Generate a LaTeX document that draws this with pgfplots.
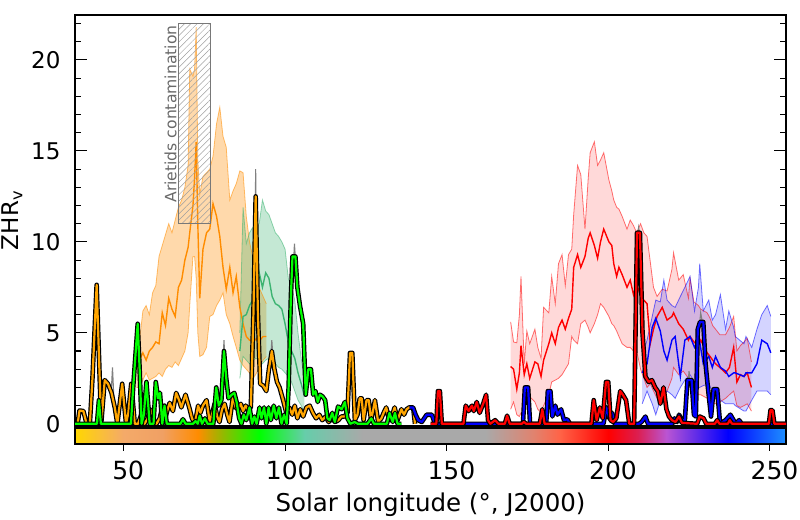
\documentclass[border=0pt]{standalone}
\usepackage{fontspec}
\setmainfont{DejaVu Sans}
\usepackage{pgfplots}
\usepackage{pgfplotstable}
\pgfplotsset{compat=1.18}
\usepgfplotslibrary{fillbetween}
\usetikzlibrary{patterns.meta}

\definecolor{dorange}{RGB}{255,140,0}
\definecolor{orangeT}{RGB}{255,165,0}
\definecolor{limeT}{RGB}{0,255,0}
\definecolor{mseagreen}{RGB}{60,179,113}
\definecolor{txtgray}{RGB}{105,105,105}
\definecolor{boxgray}{RGB}{120,120,120}

\definecolor{cbA}{RGB}{255,215,0}
\definecolor{cbB}{RGB}{244,170,105}
\definecolor{cbC}{RGB}{240,160,100}
\definecolor{cbD}{RGB}{255,140,0}
\definecolor{cbE}{RGB}{170,175,0}
\definecolor{cbF}{RGB}{0,255,0}
\definecolor{cbG}{RGB}{102,205,170}
\definecolor{cbH}{RGB}{169,169,169}
\definecolor{cbI}{RGB}{169,169,169}
\definecolor{cbJ}{RGB}{225,130,110}
\definecolor{cbK}{RGB}{255,99,71}
\definecolor{cbL}{RGB}{255,0,0}
\definecolor{cbM}{RGB}{220,30,80}
\definecolor{cbN}{RGB}{186,85,211}
\definecolor{cbO}{RGB}{0,0,255}
\definecolor{cbP}{RGB}{30,144,255}
\pgfdeclarehorizontalshading{cbshade}{100bp}{color(0bp)=(cbA); color(25bp)=(cbA); color(28.41bp)=(cbB); color(31.14bp)=(cbC); color(33.64bp)=(cbD); color(35bp)=(cbE); color(37.95bp)=(cbF); color(41.14bp)=(cbG); color(45.23bp)=(cbH); color(53.86bp)=(cbI); color(57.27bp)=(cbJ); color(59.09bp)=(cbK); color(62.5bp)=(cbL); color(64.55bp)=(cbM); color(66.59bp)=(cbN); color(70.91bp)=(cbO); color(75bp)=(cbP); color(100bp)=(cbP)}

% orange band: x lo mid hi
\pgfplotstableread{
x lo mid hi
54.0 2.0 3.0 4.0
55.0 2.0 3.5 4.6
56.0 2.4 3.9 6.2
57.0 2.8 3.5 6.5
58.0 2.4 4.0 6.0
59.0 2.5 4.2 7.2
60.0 2.6 4.5 7.6
61.0 2.8 4.4 9.2
62.0 2.6 6.1 9.8
63.0 3.0 5.4 10.4
64.0 3.2 6.9 11.0
65.0 3.1 6.3 10.5
66.0 3.4 5.9 11.2
67.0 3.2 7.5 11.9
68.0 3.6 7.9 12.3
69.0 4.0 9.0 13.0
70.0 5.0 9.7 14.2
70.5 6.5 10.5 19.5
71.5 9.2 12.0 19.1
72.0 9.2 13.5 19.5
72.5 8.0 15.5 21.8
73.0 5.0 11.0 14.5
73.6 3.7 6.9 12.6
74.6 3.8 9.6 13.6
75.7 4.2 10.5 13.8
76.7 5.9 10.7 14.0
77.7 6.0 12.1 14.7
78.8 6.5 11.4 16.5
79.8 6.8 10.3 17.4
80.8 7.2 8.6 15.8
81.8 6.0 7.4 15.2
82.9 5.5 8.6 12.3
83.9 4.8 7.2 12.8
84.9 4.2 8.1 13.2
86.0 3.5 6.4 13.9
87.0 3.2 5.5 13.8
88.0 3.0 4.8 11.4
89.0 2.8 4.6 10.0
90.2 2.5 4.5 9.0
91.2 2.8 4.7 8.0
92.2 3.2 4.6 7.4
93.2 3.5 4.8 7.0
94.2 3.7 4.8 6.6
}\ob

\pgfplotstableread{
x lo mid hi
86.0 2.5 4.0 5.0
87.0 3.7 5.9 11.9
88.0 3.5 6.0 9.9
89.0 3.3 6.5 10.5
90.0 3.5 6.8 10.8
91.0 3.6 6.8 11.0
92.0 3.5 8.3 11.0
93.0 3.3 7.5 12.3
94.0 3.5 8.3 11.7
95.0 3.6 8.0 11.5
96.0 3.4 7.0 11.0
97.0 3.3 6.6 10.5
98.0 3.1 6.5 10.3
99.0 3.0 6.3 10.0
100.0 2.8 5.5 9.6
101.0 2.6 4.5 8.0
102.0 2.3 4.0 7.5
103.0 1.8 3.6 6.8
104.0 1.3 2.8 5.0
105.0 1.0 2.2 3.6
106.0 0.6 1.5 2.4
}\gb

\pgfplotstableread{
x lo mid hi
169.8 0.8 3.15 5.6
170.7 1.2 3.0 4.5
171.7 0.5 1.9 4.45
172.5 0.4 2.8 6.0
173.0 0.6 4.3 8.1
174.0 0.6 2.7 3.3
174.8 1.8 3.3 5.1
175.7 1.5 2.5 4.4
177.3 1.2 3.4 5.2
178.2 0.8 3.3 4.2
179.2 0.6 2.6 3.6
180.0 1.0 3.5 6.4
181.6 1.6 4.4 6.1
182.5 2.3 5.0 8.1
183.6 2.4 4.4 6.6
184.6 2.5 5.3 8.8
185.7 2.7 5.7 9.3
186.7 3.0 5.2 7.6
187.7 3.3 5.8 9.3
188.7 4.8 6.3 9.6
189.3 4.6 8.6 11.5
190.5 4.4 9.3 14.2
191.5 5.5 8.6 13.7
192.8 5.7 9.2 10.7
193.8 5.3 10.2 13.5
194.4 5.0 10.5 14.9
195.7 5.5 9.8 15.5
196.7 6.0 9.1 14.2
197.6 6.6 10.0 14.5
198.6 6.4 10.7 14.9
200.2 5.9 10.0 13.4
201.1 5.5 9.8 12.8
201.7 5.4 8.8 12.3
202.6 5.1 8.1 11.9
203.3 4.8 8.6 11.8
204.3 4.4 8.2 11.4
205.8 4.2 7.5 10.7
206.8 4.2 7.9 11.2
207.8 4.0 7.1 10.9
208.8 4.0 7.7 10.5
210.0 3.0 7.0 11.0
211.0 2.5 6.8 10.5
212.0 2.0 6.6 10.3
213.0 2.2 4.4 8.9
214.0 1.8 5.2 7.5
215.1 1.4 5.9 7.0
216.7 1.1 6.4 7.4
218.2 1.8 5.7 7.3
219.7 2.5 5.9 8.5
220.2 3.1 6.1 9.4
221.8 2.7 5.5 7.9
223.2 2.9 5.2 8.2
224.8 2.5 4.6 6.9
225.3 2.2 4.8 8.0
226.5 2.0 4.5 6.7
227.9 1.6 4.3 6.5
228.6 1.6 4.6 6.3
230.6 1.4 3.9 6.1
231.5 1.3 3.7 5.8
232.3 1.2 3.5 5.4
233.2 1.1 3.3 5.2
234.5 1.2 3.1 4.9
236.3 1.4 2.8 4.9
237.5 1.6 3.1 5.3
238.8 1.8 4.2 5.9
239.8 1.0 2.3 4.0
240.9 0.9 2.7 4.3
242.0 1.0 2.6 4.5
243.0 1.1 2.8 4.7
244.3 0.7 2.0 3.4
}\rb

\pgfplotstableread{
x lo mid hi
210.5 1.1 2.8 3.7
212.0 1.8 3.3 4.6
213.6 1.1 5.3 5.9
214.7 0.5 5.8 6.8
216.1 1.3 5.1 6.7
217.2 1.6 4.0 7.9
218.2 1.8 3.5 6.8
219.7 1.6 4.6 6.5
220.7 1.4 4.8 6.4
222.3 2.0 2.6 7.0
223.7 2.4 4.6 7.5
225.3 2.7 4.8 8.1
226.7 2.3 4.2 6.2
227.9 2.0 4.6 7.5
228.3 2.0 4.5 8.8
229.4 2.1 3.3 6.2
231.1 2.2 3.7 6.8
232.2 1.8 3.1 5.7
233.2 1.4 3.7 6.0
234.7 1.3 3.1 7.1
236.3 1.1 2.9 5.2
237.3 1.1 2.6 6.2
238.8 1.1 2.8 5.3
239.3 1.0 2.8 4.8
242.0 0.7 2.6 4.4
242.6 0.7 2.8 4.8
244.4 1.3 2.8 4.2
246.0 1.8 3.3 5.2
247.5 1.8 4.6 6.0
249.2 1.8 4.4 6.5
250.3 1.6 3.9 5.9
}\bb

\pgfplotstableread{
x y
35.8 0
36.4 0.73
37.6 0.7
38.6 0
39.6 0
40.4 2.5
41.7 7.64
43.1 0
44.2 2.4
45.2 2.2
46.3 1.7
47.3 0.9
48.1 0
49.6 2.2
50.8 0
51.5 0.6
52.4 2.2
53.5 0
54.5 0
55.5 0.5
56.5 0
57.5 0.3
58.3 0.8
59.2 0
60.2 0
61.2 0.3
62.0 0.9
62.8 0.2
63.5 0.7
64.3 1.15
65.3 0.7
66.3 1.7
67.2 1.3
67.9 0.9
69.2 1.6
70.5 0.8
71.2 0.3
72.1 0
73.1 1.0
73.8 0.6
74.6 1.0
75.7 1.3
76.7 0.1
77.5 0.6
78.2 1.1
79.0 0.4
79.7 0.1
80.5 0.8
81.3 1.1
82.1 0.5
82.8 0.1
83.9 1.5
84.7 0.9
85.4 0.8
86.3 1.1
87.0 0.7
87.8 1.0
88.5 0.8
89.4 0.9
90.2 6
90.9 12.5
91.6 6
92.3 2.2
93.2 2.1
94.2 1.8
95.0 3.0
95.9 4.0
96.7 3.0
97.5 2.3
98.3 2.0
99.4 1.3
100.4 0.6
101.3 0.9
102.2 0.5
103.0 1.0
103.8 0.3
104.7 0.8
105.6 0.4
106.6 0.9
107.6 1.0
108.6 0.6
109.6 0.3
110.6 0.5
111.5 0.2
112.5 0.4
113.5 0.1
114.5 0.3
115.5 0.1
116.5 0.2
117.4 0.4
118.3 0.4
119.3 0.6
120.1 3.9
120.8 3.9
121.6 0.2
122.4 0.5
123.1 1.4
123.7 1.4
124.3 0.2
125.2 1.3
125.9 1.3
126.6 0.2
127.3 0.8
127.8 1.3
128.8 0.1
129.8 0.3
130.5 0.6
131.3 0.9
132.2 0.2
133.2 0.5
133.9 0.9
134.8 0.2
136.0 0.8
136.8 0.5
137.6 0.8
138.4 0.9
139.1 0.9
139.7 0.8
140.2 0
}\oT

\pgfplotstableread{
x y
35 0
41.8 0
42.4 1.3
43.0 0
52.3 0
53.0 2.0
53.8 4.0
54.4 5.5
55.0 3.0
55.6 0
56.3 0.5
57.1 2.3
58.1 0
59.3 0
60.0 2.3
60.7 1.4
61.3 1.7
62.0 0
62.7 1.0
63.4 0
67.6 0
68.4 0.25
69.2 0
71.5 0
72.3 0.15
73.0 0
73.6 0.45
74.3 0
75.2 0.3
76.0 0
77.8 0
78.7 2.0
79.5 1.0
80.3 1.3
81.1 4.0
81.8 2.5
82.5 1.4
83.5 1.6
84.3 1.7
85.0 1.2
85.8 0.3
86.5 0
87.2 0.5
88.0 0.2
89.0 0.9
89.8 0
90.5 0.4
91.2 0
92.1 0.9
92.7 0.3
93.5 0.9
94.2 0
94.9 0.9
95.6 0.2
96.5 1.0
97.3 0.3
98.1 0.9
98.9 0
99.7 0.5
100.5 0
101.1 2.0
101.8 7.0
102.3 9.2
103.2 9.2
103.8 7.5
104.6 6.5
105.6 5.5
106.4 1.6
107.2 3.0
108.0 3.0
108.7 1.6
109.4 1.8
110.1 1.2
110.8 1.6
111.6 1.5
112.4 1.3
113.1 0.3
113.8 0.2
114.6 0.6
115.4 0.1
116.4 0.95
117.5 0.8
118.5 1.2
119.3 0.3
120.2 0
121.5 0.1
122.5 0
125.5 0
126.7 0.3
127.5 0
131.5 0
132.3 0.6
133.3 0.1
134.0 0.6
134.8 0
136.0 0
}\gT

\pgfplotstableread{
x y
138.5 0.9
139.6 0.9
140.4 0.5
141.2 0.2
142.3 0.1
143.8 0.5
145.4 0.5
146.4 0
173.6 0
174.2 2.0
175.2 2.0
175.8 0
180.8 0
181.3 1.8
182.1 1.8
182.7 0.4
183.6 1.0
184.3 0.5
185.4 0.8
186.3 0.2
187.3 0.25
188.2 0
198.5 0
199.5 0.9
200.3 0.3
201.2 0.6
202.0 0
209.5 0
210.3 0.1
211.5 0.4
212.3 0
219.8 0
220.5 0.3
221.3 0.1
221.9 0.5
222.8 0.2
223.7 0.2
224.5 2.4
225.8 2.4
226.5 0.5
227.1 0.4
227.7 5.2
228.4 5.6
229.4 5.6
230.1 3.3
230.8 2.05
231.8 0.4
232.6 1.9
233.7 1.9
234.6 0
236.3 0.2
237.8 0.5
239.4 0
240.5 0.2
241.3 0
255.0 0
}\bT

\pgfplotstableread{
x y
145.0 0
146.8 0
147.3 1.8
147.9 1.8
148.5 0
155.2 0
155.9 1.0
156.8 0.7
157.8 1.0
158.4 0.7
159.3 1.2
160.2 0.6
161.3 1.1
162.2 1.6
162.8 0.2
163.5 0
165.0 0.2
166.0 0
168.0 0
168.7 0.45
169.5 0
173.2 0
173.9 0.1
174.6 0
178.8 0
179.6 0.8
180.3 0
194.8 0
195.5 1.3
196.4 0.2
197.4 0.9
198.3 0.3
199.3 2.3
200.0 2.3
200.7 0.2
201.5 0.1
202.5 0.3
203.7 1.8
204.5 1.6
205.5 1.3
206.5 0
208.0 0
208.9 10.5
209.8 10.5
210.6 5.0
211.5 2.6
212.5 2.3
213.5 2.4
214.5 2.0
215.3 1.8
216.1 1.1
217.1 2.0
218.0 0.8
218.8 0.4
219.7 0.2
220.8 0.1
221.9 0.4
222.8 0.05
227.5 0
228.3 0.4
229.5 0.3
230.3 0
233.0 0
233.7 0.2
234.4 0
237.0 0
237.6 0.2
238.3 0
249.7 0
250.2 0.75
250.8 0.75
251.4 0
255.0 0
}\rT

\pgfplotstableread{
x y
46.2 1.7
46.6 3.1
47.0 1.5
nan nan
53.2 2.0
53.6 4.6
54.0 3.0
nan nan
80.7 3.0
81.1 4.6
81.5 3.0
nan nan
90.4 4.0
90.9 14.0
91.4 4.0
nan nan
95.5 3.5
95.9 4.6
96.3 3.5
nan nan
102.4 8.0
102.9 9.9
103.4 8.5
nan nan
208.9 10.2
209.4 10.8
209.9 10.2
nan nan
224.6 2.0
225.0 2.9
225.4 2.2
nan nan
228.0 5.0
228.6 6.1
229.2 5.5
}\grayT

\begin{document}
\begin{tikzpicture}[x=1bp,y=1bp]
\pgfplotsset{
  band/.style={line width=0.8bp, draw opacity=0.55},
  thickblack/.style={black, line width=4.6bp, line join=round},
  thickcol/.style={line width=2.2bp, line join=round},
}
\begin{axis}[
  at={(75bp,94bp)}, anchor=south west, scale only axis,
  width=711bp, height=411bp,
  xmin=35, xmax=255, ymin=-0.12, ymax=22.47,
  xtick=\empty,
  ytick={0,5,10,15,20},
  minor ytick={1,2,3,4,6,7,8,9,11,12,13,14,16,17,18,19,21,22},
  tick align=inside, ytick pos=both,
  major tick length=11.7bp, minor tick length=6bp,
  every tick/.append style={black, line width=1.1bp},
  axis line style={line width=1.1bp},
  /pgf/number format/assume math mode=true,
  yticklabel style={font=\fontsize{23bp}{27bp}\selectfont, inner sep=0pt, xshift=-14.3bp},
  ylabel={ZHR\textsubscript{v}},
  ylabel style={font=\fontsize{23bp}{27bp}\selectfont, at={(axis description cs:-0.1031,0.5)}, anchor=north, inner sep=0pt},
]
% orange band
\addplot[name path=oU, band, draw=dorange, forget plot] table[x=x,y=hi]{\ob};
\addplot[name path=oL, band, draw=dorange, forget plot] table[x=x,y=lo]{\ob};
\addplot[fill=dorange, fill opacity=0.33, draw=none, forget plot] fill between[of=oU and oL];
% green band
\addplot[name path=gU, band, draw=mseagreen, forget plot] table[x=x,y=hi]{\gb};
\addplot[name path=gL, band, draw=mseagreen, forget plot] table[x=x,y=lo]{\gb};
\addplot[fill=mseagreen, fill opacity=0.3, draw=none, forget plot] fill between[of=gU and gL];
% red band
\addplot[name path=rU, band, draw=red, forget plot] table[x=x,y=hi]{\rb};
\addplot[name path=rL, band, draw=red, forget plot] table[x=x,y=lo]{\rb};
\addplot[fill=red, fill opacity=0.15, draw=none, forget plot] fill between[of=rU and rL];
% blue band
\addplot[name path=bU, band, draw=blue, forget plot] table[x=x,y=hi]{\bb};
\addplot[name path=bL, band, draw=blue, forget plot] table[x=x,y=lo]{\bb};
\addplot[fill=blue, fill opacity=0.17, draw=none, forget plot] fill between[of=bU and bL];
% means
\addplot[dorange, line width=1.4bp] table[x=x,y=mid]{\ob};
\addplot[mseagreen, line width=1.4bp] table[x=x,y=mid]{\gb};
\addplot[red, line width=1.4bp] table[x=x,y=mid]{\rb};
\addplot[blue, line width=1.4bp] table[x=x,y=mid]{\bb};
% Arietids box
\draw[draw=boxgray, line width=1.2bp, pattern={Lines[angle=45,distance=4.5bp,line width=0.5bp]}, pattern color=gray!75] (axis cs:67,11) rectangle (axis cs:77,22);
\node[rotate=90, anchor=east, inner sep=0pt, text=txtgray, font=\fontsize{15.6bp}{18bp}\selectfont] at (axis cs:64.6,21.9) {Arietids contamination};
% gray upper traces
\addplot[gray, line width=1.1bp, unbounded coords=jump] table{\grayT};
% thick series
\addplot[thickblack] table{\oT};
\addplot[thickcol, orangeT] table{\oT};
\addplot[thickblack] table{\gT};
\addplot[thickcol, limeT] table{\gT};
\addplot[thickblack] table{\bT};
\addplot[thickcol, blue] table{\bT};
\addplot[thickblack] table{\rT};
\addplot[thickcol, red] table{\rT};
\end{axis}

\begin{axis}[
  at={(75bp,76bp)}, anchor=south west, scale only axis,
  width=711bp, height=16bp,
  xmin=35, xmax=255, ymin=0, ymax=1,
  ytick=\empty,
  xtick={50,100,150,200,250},
  xtick pos=bottom, tick align=outside,
  major tick length=7bp,
  every tick/.append style={black, line width=1.1bp},
  axis line style={line width=1.1bp},
  axis on top,
  /pgf/number format/assume math mode=true,
  xticklabel style={font=\fontsize{25bp}{29bp}\selectfont, anchor=base, inner sep=0pt, yshift=-28.3bp, xshift=4.7bp},
  xlabel={Solar longitude (°, J2000)},
  xlabel style={font=\fontsize{24.5bp}{28bp}\selectfont, at={(axis description cs:0.5,-4.19)}, anchor=base, inner sep=0pt},
]
\addplot[draw=none, forget plot] coordinates {(35,0) (255,1)};
\shade[shading=cbshade] (axis cs:35,0) rectangle (axis cs:255,1);
\end{axis}
\useasboundingbox (0,0) rectangle (800,520);
\end{tikzpicture}
\end{document}
